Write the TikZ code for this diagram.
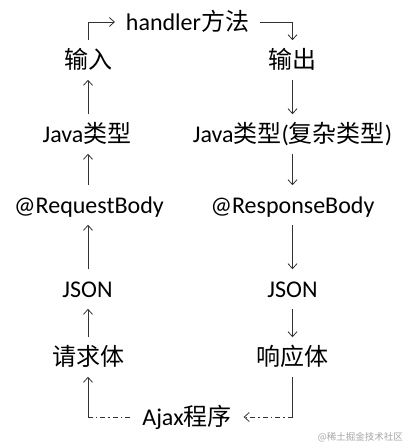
\documentclass[tikz,border=0pt]{standalone}
\usepackage{fontspec}
\setmainfont{Carlito}
\newfontfamily\cjk{Noto Sans CJK SC}
\usetikzlibrary{arrows.meta}
\tikzset{
  lbl/.style={font=\fontsize{24}{27}\selectfont, inner sep=0pt, text height=16.5pt, text depth=0pt, outer ysep=11.5pt, text=black},
  wide/.style={outer xsep=11pt},
  conn/.style={draw=black!80, line width=0.8pt},
  arr/.style={conn, -{Straight Barb[length=5pt,width=9pt,line width=0.8pt]}},
  dd/.style={dash pattern=on 5pt off 3pt on 1.5pt off 3pt}
}
\begin{document}
\begin{tikzpicture}[x=1pt,y=-1pt]
\useasboundingbox (0,0) rectangle (406,443);
\fill[white] (0,0) rectangle (406,443);
% nodes
\node[lbl,wide] (handler) at (187.5,22) {handler{\cjk 方法}};
\node[lbl] (in) at (88,60) {{\cjk 输入}};
\node[lbl] (out) at (292.5,60) {{\cjk 输出}};
\node[lbl] (jl) at (87,134) {Java{\cjk 类型}};
\node[lbl] (jr) at (292.5,134) {Java{\cjk 类型}({\cjk 复杂类型})};
\node[lbl] (rqb) at (89,205) {@RequestBody};
\node[lbl] (rsb) at (292.5,205) {@ResponseBody};
\node[lbl] (jsl) at (87.5,289) {JSON};
\node[lbl] (jsr) at (292.5,289) {JSON};
\node[lbl] (req) at (88,357) {{\cjk 请求体}};
\node[lbl] (resp) at (292.5,357) {{\cjk 响应体}};
\node[lbl,outer xsep=12pt] (ajax) at (187,417) {Ajax{\cjk 程序}};
\node[anchor=east, inner sep=0pt, text=black!35, font=\cjk\fontsize{9.5}{11}\selectfont] (wm) at (403,437) {@稀土掘金技术社区};
% left column (upwards)
\draw[arr] (in.north -| 88,0) |- (handler.west);
\draw[arr] (handler.east) -| (out.north -| 292.5,0);
\draw[arr] (jl.north -| 88,0) -- (in.south -| 88,0);
\draw[arr] (rqb.north -| 88,0) -- (jl.south -| 88,0);
\draw[arr] (jsl.north -| 88,0) -- (rqb.south -| 88,0);
\draw[arr] (req.north -| 88,0) -- (jsl.south -| 88,0);
% right column (downwards)
\draw[arr] (out.south) -- (jr.north);
\draw[arr] (jr.south) -- (rsb.north);
\draw[arr] (rsb.south) -- (jsr.north);
\draw[arr] (jsr.south) -- (resp.north);
% bottom loop
\coordinate (lc) at (req.south |- ajax.west);
\coordinate (rc) at (resp.south |- ajax.east);
\draw[conn,dd] (ajax.west) -- (lc);
\draw[arr] (lc) -- (req.south);
\draw[conn] (resp.south) -- (rc);
\draw[arr,dd] (rc) -- (ajax.east);
\end{tikzpicture}
\end{document}
